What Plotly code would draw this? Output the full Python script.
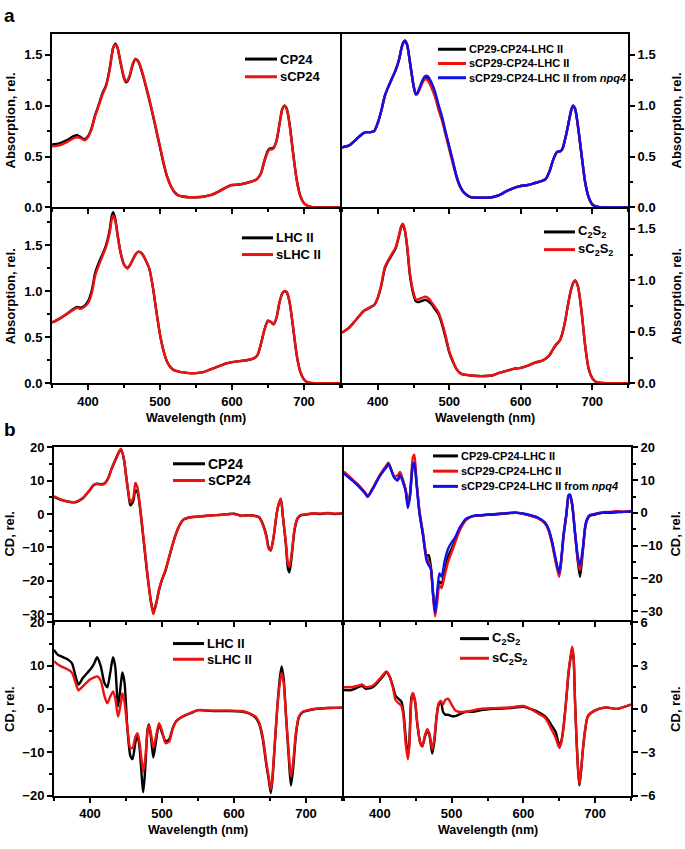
import plotly.graph_objects as go

W, H = 685, 849

# ---------------- Data: absorption (panel a) ----------------
WL_ABS = [350, 360, 370, 380, 385, 390, 395, 400, 405, 410,
          415, 420, 425, 430, 433, 435, 438, 441, 445, 450,
          453, 455, 458, 462, 466, 470, 475, 480, 485, 490,
          495, 500, 505, 510, 515, 520, 525, 530, 540, 550,
          560, 570, 580, 590, 600, 610, 620, 630, 635, 640,
          645, 650, 653, 655, 658, 662, 666, 670, 673, 676,
          680, 685, 690, 695, 700, 705, 710, 720, 735, 750]

ABS_CP24 = [0.62, 0.63, 0.66, 0.70, 0.71, 0.69, 0.67, 0.70, 0.78, 0.91,
            1.01, 1.12, 1.20, 1.36, 1.50, 1.57, 1.61, 1.57, 1.43, 1.27,
            1.23, 1.24, 1.29, 1.40, 1.46, 1.43, 1.33, 1.20, 1.06, 0.91,
            0.75, 0.59, 0.43, 0.30, 0.21, 0.15, 0.12, 0.11, 0.10, 0.10,
            0.105, 0.12, 0.15, 0.19, 0.22, 0.225, 0.24, 0.26, 0.28, 0.33,
            0.46, 0.56, 0.58, 0.58, 0.59, 0.66, 0.82, 0.97, 1.00, 0.97,
            0.82, 0.53, 0.27, 0.11, 0.04, 0.015, 0.005, 0, 0, 0]
ABS_SCP24 = [0.60, 0.61, 0.64, 0.68, 0.69, 0.68, 0.66, 0.69, 0.77, 0.90,
             1.00, 1.11, 1.19, 1.35, 1.49, 1.57, 1.60, 1.57, 1.44, 1.28,
             1.24, 1.25, 1.30, 1.41, 1.46, 1.44, 1.34, 1.21, 1.07, 0.92,
             0.76, 0.60, 0.44, 0.30, 0.21, 0.15, 0.12, 0.11, 0.10, 0.10,
             0.105, 0.12, 0.15, 0.19, 0.22, 0.225, 0.24, 0.26, 0.28, 0.33,
             0.45, 0.55, 0.57, 0.57, 0.58, 0.66, 0.82, 0.97, 1.00, 0.97,
             0.81, 0.52, 0.26, 0.11, 0.04, 0.015, 0.005, 0, 0, 0]

ABS_CCL = [0.59, 0.61, 0.67, 0.73, 0.74, 0.74, 0.75, 0.83, 0.95, 1.10,
           1.19, 1.27, 1.35, 1.46, 1.56, 1.61, 1.64, 1.60, 1.43, 1.20,
           1.12, 1.12, 1.16, 1.23, 1.28, 1.27, 1.21, 1.12, 0.99, 0.87,
           0.73, 0.59, 0.45, 0.31, 0.21, 0.15, 0.12, 0.10, 0.095, 0.095,
           0.10, 0.12, 0.16, 0.19, 0.21, 0.22, 0.24, 0.26, 0.28, 0.35,
           0.46, 0.54, 0.55, 0.55, 0.57, 0.67, 0.80, 0.94, 1.00, 0.97,
           0.80, 0.52, 0.25, 0.10, 0.03, 0.01, 0.003, 0, 0, 0]
ABS_SCCL = [0.59, 0.61, 0.67, 0.73, 0.74, 0.74, 0.75, 0.83, 0.95, 1.10,
            1.19, 1.27, 1.35, 1.46, 1.56, 1.61, 1.64, 1.60, 1.43, 1.20,
            1.11, 1.11, 1.15, 1.22, 1.26, 1.25, 1.18, 1.09, 0.96, 0.85,
            0.71, 0.57, 0.43, 0.30, 0.20, 0.15, 0.12, 0.10, 0.095, 0.095,
            0.10, 0.12, 0.16, 0.19, 0.21, 0.22, 0.24, 0.26, 0.28, 0.35,
            0.46, 0.54, 0.55, 0.55, 0.57, 0.67, 0.80, 0.94, 1.00, 0.97,
            0.80, 0.52, 0.25, 0.10, 0.03, 0.01, 0.003, 0, 0, 0]
ABS_SCCL_NPQ4 = [0.59, 0.61, 0.67, 0.73, 0.74, 0.74, 0.75, 0.83, 0.95, 1.10,
                 1.19, 1.27, 1.35, 1.46, 1.56, 1.61, 1.64, 1.60, 1.43, 1.20,
                 1.12, 1.12, 1.17, 1.24, 1.29, 1.29, 1.23, 1.14, 1.01, 0.89,
                 0.74, 0.60, 0.46, 0.31, 0.21, 0.15, 0.12, 0.10, 0.095, 0.095,
                 0.10, 0.12, 0.16, 0.19, 0.21, 0.22, 0.24, 0.26, 0.28, 0.35,
                 0.46, 0.54, 0.55, 0.55, 0.57, 0.67, 0.80, 0.94, 1.00, 0.97,
                 0.80, 0.52, 0.25, 0.10, 0.03, 0.01, 0.003, 0, 0, 0]

ABS_LHC = [0.66, 0.70, 0.75, 0.81, 0.83, 0.82, 0.84, 0.89, 1.00, 1.20,
           1.31, 1.40, 1.50, 1.66, 1.82, 1.86, 1.78, 1.62, 1.43, 1.29,
           1.26, 1.25, 1.28, 1.34, 1.40, 1.43, 1.41, 1.34, 1.25, 1.05,
           0.78, 0.53, 0.35, 0.23, 0.17, 0.14, 0.13, 0.12, 0.11, 0.11,
           0.12, 0.15, 0.18, 0.21, 0.23, 0.24, 0.25, 0.27, 0.30, 0.42,
           0.58, 0.68, 0.67, 0.66, 0.64, 0.72, 0.88, 0.98, 1.00, 0.99,
           0.88, 0.60, 0.30, 0.12, 0.04, 0.01, 0.003, 0, 0, 0]
ABS_SLHC = [0.66, 0.70, 0.75, 0.80, 0.82, 0.81, 0.83, 0.87, 0.97, 1.17,
            1.28, 1.38, 1.48, 1.63, 1.78, 1.82, 1.76, 1.61, 1.43, 1.29,
            1.26, 1.25, 1.28, 1.34, 1.40, 1.43, 1.41, 1.34, 1.25, 1.05,
            0.78, 0.53, 0.35, 0.23, 0.17, 0.14, 0.13, 0.12, 0.11, 0.11,
            0.12, 0.15, 0.18, 0.21, 0.23, 0.24, 0.25, 0.27, 0.30, 0.42,
            0.58, 0.68, 0.67, 0.66, 0.64, 0.72, 0.88, 0.98, 1.00, 0.99,
            0.88, 0.60, 0.30, 0.12, 0.04, 0.01, 0.003, 0, 0, 0]

ABS_C2S2 = [0.49, 0.54, 0.62, 0.70, 0.72, 0.74, 0.76, 0.83, 0.95, 1.12,
            1.19, 1.25, 1.31, 1.44, 1.52, 1.54, 1.48, 1.33, 1.05, 0.86,
            0.80, 0.79, 0.79, 0.80, 0.81, 0.80, 0.77, 0.72, 0.67, 0.57,
            0.44, 0.30, 0.21, 0.14, 0.10, 0.085, 0.08, 0.075, 0.07, 0.07,
            0.075, 0.10, 0.12, 0.14, 0.15, 0.17, 0.20, 0.22, 0.24, 0.27,
            0.33, 0.38, 0.40, 0.42, 0.48, 0.60, 0.76, 0.90, 0.97, 1.00,
            0.94, 0.70, 0.37, 0.14, 0.05, 0.015, 0.005, 0, 0, 0]
ABS_SC2S2 = [0.49, 0.54, 0.62, 0.70, 0.72, 0.74, 0.76, 0.83, 0.96, 1.13,
             1.20, 1.26, 1.32, 1.45, 1.53, 1.55, 1.49, 1.34, 1.07, 0.88,
             0.82, 0.81, 0.82, 0.83, 0.84, 0.83, 0.79, 0.74, 0.69, 0.59,
             0.46, 0.31, 0.22, 0.14, 0.10, 0.085, 0.08, 0.075, 0.07, 0.07,
             0.075, 0.10, 0.12, 0.14, 0.15, 0.17, 0.20, 0.22, 0.24, 0.27,
             0.33, 0.38, 0.40, 0.42, 0.48, 0.60, 0.76, 0.90, 0.97, 1.00,
             0.94, 0.70, 0.37, 0.14, 0.05, 0.015, 0.005, 0, 0, 0]

# ---------------- Data: CD (panel b) ----------------
WL_CD_CP24 = [350, 360, 370, 380, 390, 400, 405, 410, 415, 420,
              425, 430, 435, 440, 443, 447, 450, 453, 456, 460,
              463, 466, 470, 475, 480, 485, 488, 492, 496, 500,
              505, 510, 515, 520, 525, 530, 540, 550, 560, 570,
              580, 590, 600, 605, 610, 620, 630, 635, 640, 645,
              648, 651, 655, 658, 661, 665, 668, 672, 675, 677,
              680, 684, 688, 692, 700, 710, 720, 730, 740, 750]
CD_CP24 = [5.2, 4.2, 3.7, 3.5, 4.7, 7.2, 8.6, 9.1, 8.9, 9.1,
           10.6, 13.5, 16.0, 18.4, 19.3, 16.5, 11.6, 6.7, 2.6, 3.8,
           7.0, 6.5, 0.8, -9.0, -18.8, -26.7, -29.4, -26.7, -22.7, -19.8,
           -16.9, -12.9, -9.0, -5.6, -3.1, -1.7, -1.0, -0.8, -0.6, -0.4,
           -0.3, -0.1, 0.1, -0.2, -0.5, -0.4, -0.6, -1.0, -3.0, -6.5,
           -10.0, -11.0, -7.0, -2.0, 2.0, 4.5, -1.0, -9.0, -16.5, -17.5,
           -13.0, -5.0, -1.5, -0.5, -0.2, 0.1, 0.0, 0.2, 0.0, 0.1]
CD_SCP24 = [5.3, 4.3, 3.6, 3.6, 4.8, 7.3, 8.7, 9.0, 8.8, 9.0,
            10.5, 13.6, 16.2, 18.6, 19.6, 16.7, 11.8, 7.0, 3.4, 4.8,
            9.3, 7.8, 1.2, -8.6, -18.5, -26.9, -30.0, -27.0, -22.5, -19.6,
            -16.7, -12.8, -9.0, -5.6, -3.1, -1.7, -1.0, -0.8, -0.6, -0.4,
            -0.3, -0.1, 0.0, -0.3, -0.6, -0.4, -0.7, -1.1, -3.2, -6.8,
            -10.3, -10.8, -6.8, -1.8, 2.1, 4.6, -0.8, -8.5, -15.0, -15.8,
            -12.0, -4.6, -1.3, -0.4, -0.1, 0.2, 0.1, 0.3, 0.1, 0.2]

WL_CD_CCL = [350, 360, 370, 380, 383, 390, 400, 410, 412, 420,
             425, 428, 432, 436, 439, 442, 446, 448, 451, 455,
             460, 465, 468, 471, 474, 477, 480, 483, 486, 490,
             495, 500, 505, 510, 515, 520, 530, 540, 550, 560,
             570, 580, 590, 600, 610, 620, 630, 635, 640, 645,
             648, 650, 653, 656, 660, 663, 665, 668, 672, 676,
             679, 683, 687, 692, 700, 710, 720, 730, 740, 750]
CD_CCL = [12.4, 10.4, 8.4, 5.9, 5.0, 7.4, 11.4, 14.4, 15.1, 10.9,
          10.0, 11.9, 9.9, 6.9, 2.7, 5.4, 14.4, 15.0, 9.4, 0.5,
          -6.4, -13.0, -12.9, -16.3, -24.0, -30.0, -25.0, -21.0, -21.5, -18.3,
          -13.4, -10.9, -8.4, -5.4, -3.5, -2.0, -1.0, -0.8, -0.6, -0.5,
          -0.3, -0.1, 0.0, -0.3, -0.8, -1.5, -3.0, -5.0, -9.0, -14.5,
          -17.3, -18.8, -14.0, -7.0, -0.5, 5.0, 5.4, 2.5, -6.4, -15.0,
          -19.5, -11.4, -3.5, -1.0, -0.5, 0.0, 0.0, 0.2, 0.3, 0.3]
CD_SCCL = [12.6, 10.6, 8.6, 6.1, 5.2, 7.6, 11.6, 14.8, 15.3, 11.2,
           11.5, 12.5, 10.2, 7.0, 2.5, 6.0, 17.0, 17.8, 10.0, 1.0,
           -6.0, -13.4, -15.0, -17.0, -25.0, -31.6, -27.0, -22.0, -23.0, -19.5,
           -15.0, -12.0, -9.0, -6.0, -3.8, -2.2, -1.0, -0.8, -0.5, -0.4,
           -0.2, 0.0, 0.1, -0.3, -0.9, -1.6, -3.2, -5.3, -9.5, -15.0,
           -18.0, -19.5, -14.5, -7.2, -0.5, 5.0, 5.3, 2.5, -6.0, -14.5,
           -17.5, -11.0, -3.3, -0.8, -0.3, 0.2, 0.3, 0.5, 0.4, 0.6]
CD_SCCL_NPQ4 = [12.0, 10.2, 8.2, 5.8, 4.9, 7.3, 11.3, 14.3, 15.0, 10.8,
                10.0, 11.5, 9.5, 6.5, 1.5, 5.0, 14.8, 15.3, 9.0, 0.2,
                -6.8, -14.5, -16.0, -17.0, -24.5, -30.5, -24.0, -18.5, -19.5, -15.0,
                -11.0, -9.0, -7.5, -5.0, -3.2, -1.8, -0.9, -0.7, -0.5, -0.4,
                -0.2, 0.0, 0.1, -0.2, -0.7, -1.4, -2.9, -4.9, -8.8, -14.0,
                -17.0, -18.3, -13.5, -6.5, 0.0, 5.5, 5.6, 2.7, -6.0, -13.5,
                -16.0, -10.5, -3.0, -0.8, -0.3, 0.1, 0.2, 0.3, 0.3, 0.5]

WL_CD_LHC = [350, 355, 360, 370, 375, 380, 384, 390, 400, 405,
             410, 415, 420, 424, 428, 432, 435, 439, 443, 445,
             448, 452, 456, 459, 463, 466, 469, 474, 477, 480,
             482, 485, 488, 492, 496, 500, 505, 510, 515, 520,
             530, 540, 550, 570, 590, 610, 620, 630, 635, 640,
             645, 648, 651, 653, 656, 660, 663, 666, 669, 672,
             676, 679, 682, 686, 690, 695, 700, 715, 730, 750]
CD_LHC = [13.6, 12.5, 12.1, 11.3, 10.5, 7.5, 5.6, 7.1, 9.0, 10.2,
          11.9, 9.8, 6.0, 5.0, 8.2, 11.9, 9.8, 0.6, 6.0, 8.4,
          6.0, -4.7, -10.8, -11.6, -7.8, -5.9, -9.3, -19.2, -13.0, -4.7,
          -3.6, -7.0, -11.2, -7.0, -3.6, -5.5, -7.4, -7.0, -4.4, -2.8,
          -1.7, -1.0, -0.3, -0.5, -0.5, -0.6, -1.0, -2.0, -3.5, -7.0,
          -13.0, -16.0, -19.4, -17.0, -10.0, 0.0, 6.0, 9.8, 7.0, -1.0,
          -11.0, -17.7, -14.0, -6.0, -2.0, -0.8, -0.5, 0.0, 0.2, 0.3]
CD_SLHC = [11.0, 10.3, 9.8, 9.0, 8.3, 6.0, 4.3, 5.2, 6.8, 7.2,
           7.5, 6.5, 3.0, 1.3, 2.8, 4.0, 2.5, -1.8, 1.5, 3.6,
           1.5, -4.5, -9.0, -9.0, -6.5, -5.6, -8.0, -14.5, -11.0, -5.0,
           -3.8, -6.0, -9.0, -6.0, -3.3, -5.0, -7.9, -7.5, -4.5, -2.8,
           -1.6, -0.9, -0.3, -0.4, -0.4, -0.5, -0.9, -1.8, -3.2, -6.5,
           -12.5, -15.5, -18.6, -16.5, -9.5, 0.0, 5.0, 8.3, 6.0, -1.0,
           -10.0, -15.7, -12.5, -5.5, -1.8, -0.7, -0.4, 0.1, 0.2, 0.3]

WL_CD_C2S2 = [350, 360, 370, 375, 380, 390, 400, 405, 409, 413,
              418, 422, 426, 430, 433, 436, 439, 441, 444, 446,
              449, 452, 456, 459, 463, 466, 469, 473, 476, 479,
              482, 485, 488, 491, 495, 500, 505, 510, 520, 530,
              540, 560, 580, 600, 610, 620, 630, 635, 640, 645,
              650, 653, 656, 660, 663, 666, 668, 670, 672, 674,
              676, 678, 680, 683, 686, 690, 700, 715, 730, 750]
CD_C2S2 = [1.3, 1.3, 1.5, 1.6, 1.4, 1.5, 2.0, 2.3, 2.55, 2.3,
           1.6, 0.9, 0.7, 0.5, -0.3, -2.0, -3.2, -2.4, 0.8, 1.05,
           0.5, -1.0, -2.3, -2.6, -1.9, -1.5, -1.8, -3.1, -2.2, -0.6,
           0.3, 0.5, -0.2, -0.4, -0.4, -0.5, -0.5, -0.4, -0.2, -0.2,
           -0.1, 0.0, 0.05, 0.15, 0.0, -0.2, -0.5, -0.8, -1.2, -1.6,
           -2.5, -2.2, -1.2, 0.8, 2.5, 3.6, 4.2, 3.5, 0.5, -2.0,
           -4.0, -5.3, -4.5, -2.8, -1.5, -0.5, -0.1, 0.1, 0.0, 0.3]
CD_SC2S2 = [1.5, 1.5, 1.6, 1.7, 1.5, 1.6, 2.1, 2.4, 2.6, 2.3,
            1.5, 0.6, 0.4, 0.2, -0.6, -2.4, -3.5, -2.6, 0.6, 1.1,
            0.6, -0.9, -2.3, -2.6, -1.8, -1.4, -1.7, -2.8, -2.0, -0.5,
            0.4, 0.55, 0.3, 0.6, 0.7, 0.3, -0.1, -0.2, -0.2, -0.1,
            0.0, 0.05, 0.1, 0.2, 0.0, -0.3, -0.6, -1.0, -1.5, -2.0,
            -2.7, -2.3, -1.3, 0.8, 2.6, 3.7, 4.3, 3.6, 0.5, -2.0,
            -4.0, -5.2, -4.5, -2.8, -1.5, -0.5, -0.1, 0.1, 0.0, 0.3]

BLACK, RED, BLUE = "#000000", "#ee1111", "#1010ee"
FONT = "Liberation Sans, Arial, sans-serif"


def px(x):
    return x / W


def py(y):
    return 1 - y / H


# subplot definitions: (x_px_range, y_px_range, yrange, dtick, minor, side, showxlabels, title, fmt)
subplots = [
    ((52, 340), (27, 204), [0, 1.71], 0.5, 0.25, "left", False, "Absorption, rel.", ".1f"),
    ((342, 628), (27, 204), [0, 1.71], 0.5, 0.25, "right", False, "Absorption, rel.", ".1f"),
    ((52, 340), (206, 383), [0, 1.89], 0.5, 0.25, "left", True, "Absorption, rel.", ".1f"),
    ((342, 628), (206, 383), [0, 1.69], 0.5, 0.25, "right", True, "Absorption, rel.", ".1f"),
    ((54, 342), (448, 624), [-31.8, 20.05], 10, 5, "left", False, "CD, rel.", "d"),
    ((344, 631), (448, 624), [-32.7, 20.1], 10, 5, "right", False, "CD, rel.", "d"),
    ((54, 342), (626, 803), [-20.05, 20.05], 10, 5, "left", True, "CD, rel.", "d"),
    ((344, 631), (626, 803), [-6.02, 6.02], 3, 1.5, "right", True, "CD, rel.", "d"),
]

traces = [
    (1, WL_ABS, [("CP24", ABS_CP24, BLACK), ("sCP24", ABS_SCP24, RED)]),
    (2, WL_ABS, [("CP29-CP24-LHC II", ABS_CCL, BLACK), ("sCP29-CP24-LHC II", ABS_SCCL, RED),
                 ("sCP29-CP24-LHC II from <i>npq4</i>", ABS_SCCL_NPQ4, BLUE)]),
    (3, WL_ABS, [("LHC II", ABS_LHC, BLACK), ("sLHC II", ABS_SLHC, RED)]),
    (4, WL_ABS, [("C<sub>2</sub>S<sub>2</sub>", ABS_C2S2, BLACK), ("sC<sub>2</sub>S<sub>2</sub>", ABS_SC2S2, RED)]),
    (5, WL_CD_CP24, [("CP24", CD_CP24, BLACK), ("sCP24", CD_SCP24, RED)]),
    (6, WL_CD_CCL, [("CP29-CP24-LHC II", CD_CCL, BLACK), ("sCP29-CP24-LHC II", CD_SCCL, RED),
                    ("sCP29-CP24-LHC II from <i>npq4</i>", CD_SCCL_NPQ4, BLUE)]),
    (7, WL_CD_LHC, [("LHC II", CD_LHC, BLACK), ("sLHC II", CD_SLHC, RED)]),
    (8, WL_CD_C2S2, [("C<sub>2</sub>S<sub>2</sub>", CD_C2S2, BLACK), ("sC<sub>2</sub>S<sub>2</sub>", CD_SC2S2, RED)]),
]

# legend layout: (line start px, first row centre px, row spacing px, line length, font size)
legend_pos = {
    1: (245, 53, 18, 32, 13), 2: (438, 43, 14.5, 28, 11), 3: (242, 235, 17, 31, 13),
    4: (544, 229, 18, 31, 13), 5: (173, 465, 17, 32, 14), 6: (433, 457, 15.5, 25, 11),
    7: (173, 648, 16, 31, 13), 8: (460, 643, 20, 29, 13),
}

fig = go.Figure()
shapes = []
annotations = []
for idx, wl, series in traces:
    sfx = "" if idx == 1 else str(idx)
    lx, ly, gap, ll, fs = legend_pos[idx]
    for k, (name, vals, col) in enumerate(series):
        fig.add_trace(go.Scatter(
            x=wl, y=vals, mode="lines", name=name, showlegend=False,
            line=dict(color=col, width=2.4, shape="spline", smoothing=0.7),
            xaxis="x" + sfx, yaxis="y" + sfx,
        ))
        ry = ly + k * gap
        shapes.append(dict(type="line", xref="paper", yref="paper",
                           x0=px(lx), x1=px(lx + ll), y0=py(ry), y1=py(ry),
                           line=dict(color=col, width=3)))
        annotations.append(dict(text="<b>%s</b>" % name, xref="paper", yref="paper",
                                x=px(lx + ll + 1), y=py(ry), xanchor="left", yanchor="middle",
                                showarrow=False, font=dict(family=FONT, size=fs)))

layout = dict(
    width=W, height=H, margin=dict(l=0, r=0, t=0, b=0),
    paper_bgcolor="white", plot_bgcolor="white",
    font=dict(family=FONT, size=13, color="black"),
    showlegend=False,
)

for i, (xr, yr, yrange, dt, mdt, side, showx, title, fmt) in enumerate(subplots, start=1):
    sfx = "" if i == 1 else str(i)
    layout["xaxis" + sfx] = dict(
        domain=[px(xr[0]), px(xr[1])], range=[350, 750], anchor="y" + sfx,
        tick0=400, dtick=100, ticks="outside", ticklen=5, tickwidth=1.5, tickcolor="black",
        minor=dict(dtick=50, tick0=350, ticks="outside", ticklen=3, tickwidth=1.5, tickcolor="black"),
        showticklabels=showx, showline=True, linewidth=2, linecolor="black", mirror=True,
        showgrid=False, zeroline=False,
        tickfont=dict(family=FONT, size=13, weight="bold"),
    )
    layout["yaxis" + sfx] = dict(
        domain=[py(yr[1]), py(yr[0])], range=yrange, anchor="x" + sfx, side=side,
        tick0=0, dtick=dt, tickformat=fmt, ticks="outside", ticklen=5, tickwidth=1.5,
        tickcolor="black",
        minor=dict(dtick=mdt, tick0=0, ticks="outside", ticklen=3, tickwidth=1.5, tickcolor="black"),
        showline=True, linewidth=2, linecolor="black", mirror=True,
        showgrid=False, zeroline=False,
        tickfont=dict(family=FONT, size=13, weight="bold"),
    )
    tx = 10 if side == "left" else 676
    annotations.append(dict(
        text="<b>%s</b>" % title, xref="paper", yref="paper",
        x=px(tx), y=py((yr[0] + yr[1]) / 2), xanchor="center", yanchor="middle",
        textangle=-90, showarrow=False, font=dict(family=FONT, size=13),
    ))
    if showx:
        annotations.append(dict(
            text="<b>Wavelength (nm)</b>", xref="paper", yref="paper",
            x=px((xr[0] + xr[1]) / 2), y=py(yr[1] + 35), xanchor="center", yanchor="middle",
            showarrow=False, font=dict(family=FONT, size=12.5),
        ))

annotations.append(dict(text="<b>a</b>", xref="paper", yref="paper", x=px(2), y=py(9),
                        xanchor="left", yanchor="middle", showarrow=False,
                        font=dict(family=FONT, size=19)))
annotations.append(dict(text="<b>b</b>", xref="paper", yref="paper", x=px(2), y=py(430),
                        xanchor="left", yanchor="middle", showarrow=False,
                        font=dict(family=FONT, size=19)))
layout["annotations"] = annotations
layout["shapes"] = shapes

fig.update_layout(**layout)
fig.write_html("out.html", config={"displayModeBar": False},
               post_script="document.body.style.margin='0px';")
